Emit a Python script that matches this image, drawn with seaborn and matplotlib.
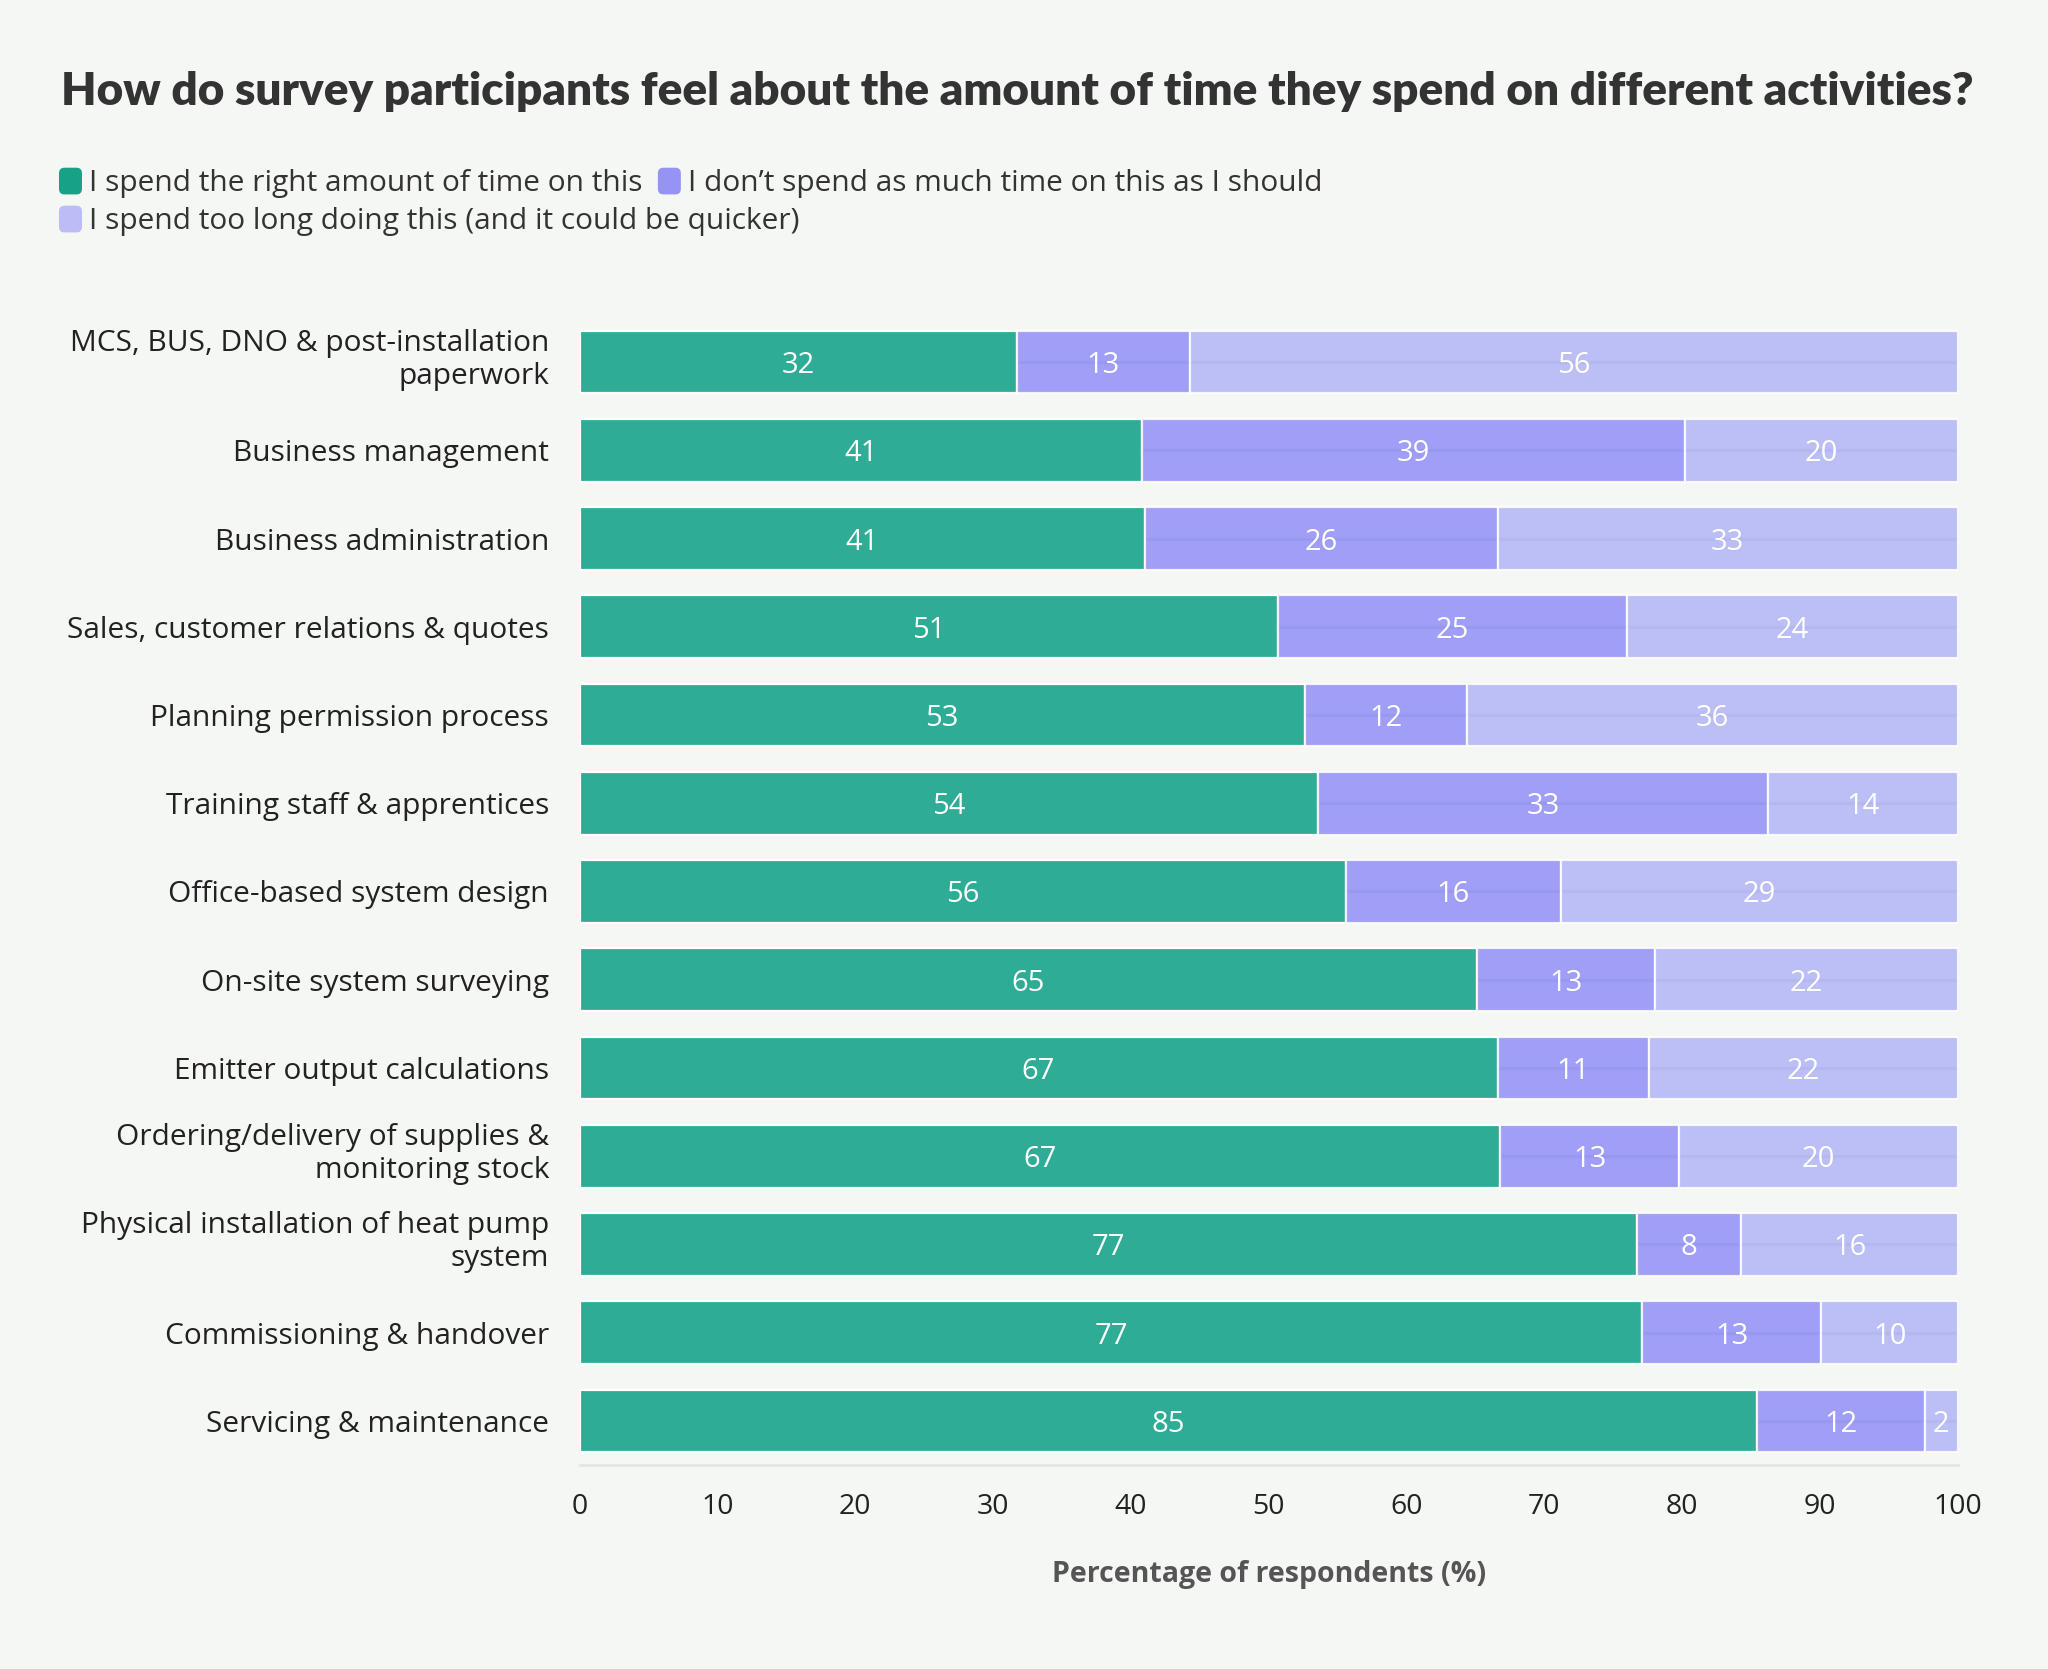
import pandas as pd
import seaborn as sns
import matplotlib.pyplot as plt
from matplotlib.patches import FancyBboxPatch, Patch
from matplotlib.legend_handler import HandlerPatch
from matplotlib.transforms import ScaledTranslation

# Activities, top to bottom
activities = [
    "MCS, BUS, DNO & post-installation\npaperwork",
    "Business management",
    "Business administration",
    "Sales, customer relations & quotes",
    "Planning permission process",
    "Training staff & apprentices",
    "Office-based system design",
    "On-site system surveying",
    "Emitter output calculations",
    "Ordering/delivery of supplies &\nmonitoring stock",
    "Physical installation of heat pump\nsystem",
    "Commissioning & handover",
    "Servicing & maintenance",
]

# Shares of respondents (%)
right_amount = [31.7, 40.8, 41.0, 50.7, 52.6, 53.6, 55.6, 65.1, 66.6, 66.8, 76.7, 77.1, 85.4]
not_enough = [12.6, 39.4, 25.6, 25.3, 11.8, 32.6, 15.6, 12.9, 11.0, 13.0, 7.6, 13.0, 12.2]
too_long = [55.7, 19.8, 33.4, 24.0, 35.6, 13.8, 28.8, 22.0, 22.4, 20.2, 15.7, 9.9, 2.4]

responses = [
    "I spend the right amount of time on this",
    "I don\u2019t spend as much time on this as I should",
    "I spend too long doing this (and it could be quicker)",
]
bar_colors = ["#2fac96", "#918ff7", "#b2b4f7"]
legend_colors = ["#17a288", "#9594f5", "#bcbdf7"]

# Long table for seaborn
df = pd.concat([
    pd.DataFrame({"activity": activities, "response": resp, "value": vals})
    for resp, vals in zip(responses, [right_amount, not_enough, too_long])
], ignore_index=True)

bg = "#f5f7f4"
sns.set_theme(style="white", rc={"figure.facecolor": bg, "axes.facecolor": bg})
plt.rcParams["font.family"] = ["Open Sans", "DejaVu Sans"]

fig = plt.figure(figsize=(20.48, 16.69), dpi=100)
ax = fig.add_axes([0.283, 0.1222, 0.673, 0.6873])

ax.grid(axis="y", color="#c9cacb", linewidth=2.2)
ax.set_axisbelow(True)

sns.histplot(
    data=df, y="activity", hue="response", weights="value",
    hue_order=responses[::-1], palette=dict(zip(responses, bar_colors)),
    multiple="stack", discrete=True, shrink=0.71, alpha=1,
    edgecolor="white", linewidth=1.6, legend=False, ax=ax,
)

# Green bars opaque, purple ones slightly see-through
for p in ax.patches:
    fc = p.get_facecolor()
    hexc = "#%02x%02x%02x" % tuple(int(round(c * 255)) for c in fc[:3])
    if hexc != bar_colors[0]:
        p.set_alpha(0.85)

# Segment labels
for i in range(len(activities)):
    start = 0
    for vals in (right_amount, not_enough, too_long):
        v = vals[i]
        ax.text(start + v / 2, i, f"{v:.0f}", ha="center", va="center_baseline",
                color="white", fontsize=21)
        start += v

ax.set_xlim(0, 100)
ax.set_ylim(len(activities) - 0.5, -0.5)
ax.set_xticks(range(0, 101, 10))
ax.set_yticks(range(len(activities)))
ax.set_yticklabels(activities, ha="right", multialignment="right", linespacing=1.2)
ax.tick_params(axis="y", length=0, pad=22, labelsize=21.5, labelcolor="#222222")
ax.tick_params(axis="x", length=0, pad=20, labelsize=20.5, labelcolor="#222222")
ax.set_ylabel("")
ax.set_xlabel("Percentage of respondents (%)", fontsize=20.5, fontweight="bold",
              color="#555555", labelpad=28)

# two-line labels sit a little higher in the original
for lbl in ax.get_yticklabels():
    if "\n" in lbl.get_text():
        lbl.set_transform(lbl.get_transform() + ScaledTranslation(0, 0.08, fig.dpi_scale_trans))

for s in ["top", "right", "left"]:
    ax.spines[s].set_visible(False)
ax.spines["bottom"].set_color("#e4e6e3")
ax.spines["bottom"].set_linewidth(2)

fig.text(0.0298, 0.945, "How do survey participants feel about the amount of time they spend on different activities?",
         fontsize=33, fontweight="heavy", color="#333333", va="center", ha="left",
         family=["Lato", "DejaVu Sans"])


class RoundBox(HandlerPatch):
    def create_artists(self, legend, orig_handle, xdescent, ydescent, width, height, fontsize, trans):
        box = FancyBboxPatch((-xdescent, -ydescent), width, height,
                             boxstyle="round,pad=0,rounding_size=4",
                             facecolor=orig_handle.get_facecolor(), edgecolor="none",
                             transform=trans)
        return [box]


handles = [Patch(facecolor=c) for c in legend_colors]
leg_kw = dict(frameon=False, fontsize=21.5, handlelength=0.77, handleheight=1.0,
              handletextpad=0.25, columnspacing=0.5, borderaxespad=0, borderpad=0,
              handler_map={Patch: RoundBox()}, labelcolor="#333333")
leg1 = fig.legend(handles[:2], responses[:2], ncol=2, loc="center left",
                  bbox_to_anchor=(0.0288, 1 - 183 / 1669), **leg_kw)
leg2 = fig.legend(handles[2:], responses[2:], ncol=1, loc="center left",
                  bbox_to_anchor=(0.0288, 1 - 221 / 1669), **leg_kw)

fig.savefig("out.png", dpi=100, facecolor=bg)
